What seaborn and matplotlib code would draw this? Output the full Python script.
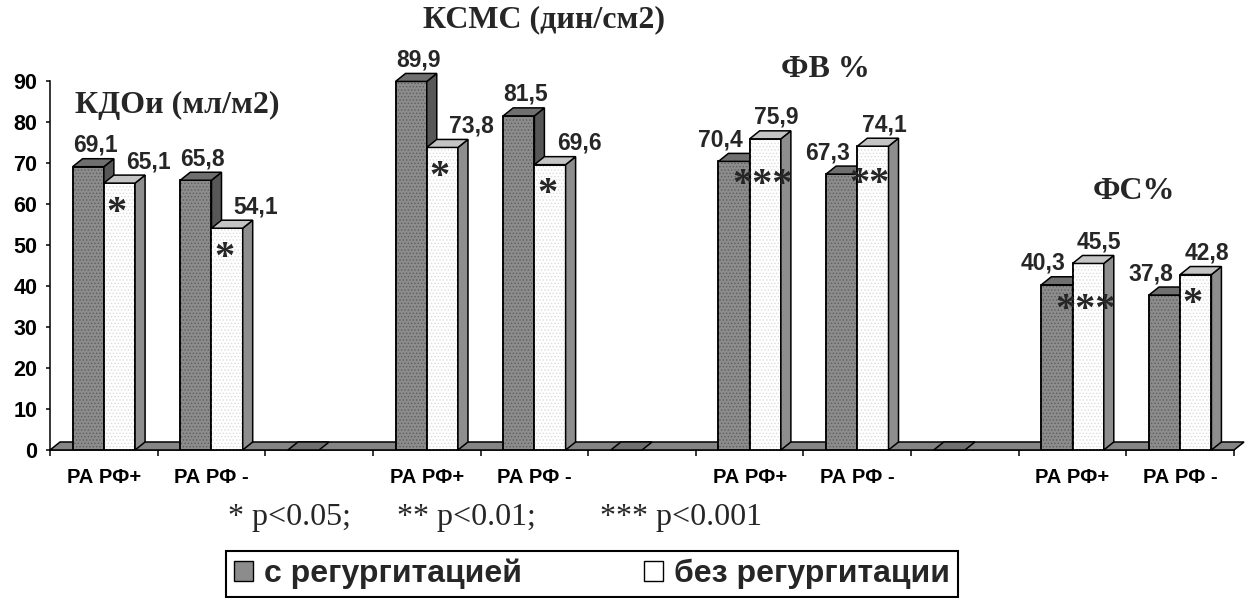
import numpy as np
import pandas as pd
import matplotlib
matplotlib.use("Agg")
import matplotlib.pyplot as plt
from matplotlib.patches import Polygon, Rectangle, Patch
from matplotlib.colors import to_rgba
import seaborn as sns

# ---- data ---------------------------------------------------------------
groups = ["КДОи (мл/м2)", "КСМС (дин/см2)", "ФВ %", "ФС%"]
subgroups = ["РА РФ+", "РА РФ -"]
series = ["с регургитацией", "без регургитации"]
with_regurg = [69.1, 65.8, 89.9, 81.5, 70.4, 67.3, 40.3, 37.8]
without_regurg = [65.1, 54.1, 73.8, 69.6, 75.9, 74.1, 45.5, 42.8]
significance = ["*", "*", "*", "*", "***", "**", "***", "*"]
spacer_value = 0.0
yticks = list(range(0, 91, 10))
footnotes = ["* p<0.05;", "** p<0.01;", "*** p<0.001"]

# ---- long table: two bars per subgroup, an empty slot between groups ----
slots, tick_labels, rows, pair_slot = [], [], [], []
k = 0
for g in range(len(groups)):
    for s in range(len(subgroups)):
        slot = f"slot{len(slots)}"
        pair_slot.append(len(slots))
        slots.append(slot)
        tick_labels.append(subgroups[s])
        rows.append((slot, series[0], with_regurg[k]))
        rows.append((slot, series[1], without_regurg[k]))
        k += 1
    if g < len(groups) - 1:
        slot = f"slot{len(slots)}"
        slots.append(slot)
        tick_labels.append("")
        rows.append((slot, series[0], spacer_value))
df = pd.DataFrame(rows, columns=["slot", "series", "value"])

# ---- style --------------------------------------------------------------
sns.set_style("white")
plt.rcParams["font.family"] = ["Liberation Sans", "DejaVu Sans"]
plt.rcParams["hatch.linewidth"] = 0.6

DARK, WHITE = "#8c8c8c", "#ffffff"
DARK_TOP, DARK_SIDE = "#6f6f6f", "#575757"
WHITE_TOP, WHITE_SIDE = "#c4c4c4", "#8e8e8e"
FLOOR = "#858585"
EDGE_LW = 1.1
SERIF = ["Liberation Serif", "DejaVu Serif"]

fig = plt.figure(figsize=(12.48, 5.98), dpi=100)
ax = fig.add_axes([0.0401, 0.2475, 0.9487, 0.617])

sns.barplot(data=df, x="slot", y="value", hue="series", order=slots,
            hue_order=series, palette=[DARK, WHITE], width=0.58,
            saturation=1, edgecolor="black", linewidth=EDGE_LW,
            errorbar=None, legend=False, ax=ax)

ax.set_xlim(-0.5, len(slots) - 0.5)
ax.set_ylim(0, 90)

# depth of the pseudo-3D extrusion (data units)
px_x = (len(slots)) / (0.9487 * 1248)      # data units per pixel, x
px_y = 90 / (0.617 * 598)                   # data units per pixel, y
DX, DY = 10 * px_x, 8 * px_y

# floor slab
floor = Polygon([(-0.5, 0), (len(slots) - 0.5, 0),
                 (len(slots) - 0.5 + DX, DY), (-0.5 + DX, DY)],
                closed=True, facecolor=FLOOR, edgecolor="black",
                linewidth=EDGE_LW, zorder=1.5, clip_on=False)
ax.add_patch(floor)

dark_rgba = to_rgba(DARK)
dark_bars, white_bars = {}, {}
for p in ax.patches:
    if not isinstance(p, Rectangle) or p is floor:
        continue
    cx = p.get_x() + p.get_width() / 2
    is_dark = np.allclose(p.get_facecolor(), dark_rgba)
    (dark_bars if is_dark else white_bars)[int(round(cx))] = p

def extrude(p, base_z, top_c, side_c, hatch_c):
    x0, w, h = p.get_x(), p.get_width(), p.get_height()
    p.set_zorder(base_z)
    # fine stipple texture on the front face
    ax.add_patch(Rectangle((x0, 0), w, h, fill=False, hatch=".....",
                           edgecolor=hatch_c, linewidth=0, zorder=base_z + 0.05))
    ax.add_patch(Rectangle((x0, 0), w, h, fill=False, edgecolor="black",
                           linewidth=EDGE_LW, zorder=base_z + 0.06))
    if h > 0:
        ax.add_patch(Polygon([(x0 + w, 0), (x0 + w + DX, DY), (x0 + w + DX, h + DY),
                              (x0 + w, h)], closed=True, facecolor=side_c,
                             edgecolor="black", linewidth=EDGE_LW,
                             zorder=base_z + 0.1, clip_on=False))
    ax.add_patch(Polygon([(x0, h), (x0 + DX, h + DY), (x0 + w + DX, h + DY),
                          (x0 + w, h)], closed=True, facecolor=top_c,
                         edgecolor="black", linewidth=EDGE_LW,
                         zorder=base_z + 0.1, clip_on=False))

for p in dark_bars.values():
    extrude(p, 2, DARK_TOP, DARK_SIDE, "#5e5e5e")
for p in white_bars.values():
    extrude(p, 3, WHITE_TOP, WHITE_SIDE, "#dcdcdc")

# ---- value labels and significance marks --------------------------------
PT = 72 / 100  # points per pixel
def fmt(v):
    return f"{v:.1f}".replace(".", ",")

for i, s in enumerate(pair_slot):
    d, w = dark_bars[s], white_bars[s]
    dv, wv = with_regurg[i], without_regurg[i]
    d_shift, w_shift = (2, 24) if dv >= wv else (-19, 6)
    for bar, val, sh in ((d, dv, d_shift), (w, wv, w_shift)):
        cx = bar.get_x() + bar.get_width() / 2 + DX / 2
        ax.annotate(fmt(val), xy=(cx, val + DY), xytext=(sh * PT, 7 * PT),
                    textcoords="offset points", ha="center", va="baseline",
                    fontsize=16.5, fontweight="bold", zorder=6,
                    annotation_clip=False)
    n = len(significance[i])
    wcx = w.get_x() + w.get_width() / 2
    ax.annotate(significance[i], xy=(wcx, wv),
                xytext=(-3 * PT, -(12 + 8.5 * n + 19) * PT),
                textcoords="offset points", ha="center", va="baseline",
                fontsize=29, fontweight="bold", family=SERIF, zorder=6)

# ---- group titles -------------------------------------------------------
title_pos = [(0.68, 84), (4.09, 105), (6.7, 92.7), (9.57, 63)]
for name, (tx, ty) in zip(groups, title_pos):
    ax.text(tx, ty, name, ha="center", va="center", fontsize=23,
            fontweight="bold", family=SERIF, zorder=7, clip_on=False)

# ---- axes ---------------------------------------------------------------
for side in ("top", "right"):
    ax.spines[side].set_visible(False)
for side in ("left", "bottom"):
    ax.spines[side].set_color("black")
    ax.spines[side].set_linewidth(EDGE_LW)
ax.spines["bottom"].set_zorder(1.4)

ax.set_yticks(yticks)
ax.set_yticklabels([str(t) for t in yticks], fontsize=15.5, fontweight="bold")
ax.tick_params(axis="y", left=True, direction="out", length=3, width=EDGE_LW,
               pad=6, colors="black")
ax.set_xticks(range(len(slots)))
ax.set_xticklabels(tick_labels, fontsize=14.5, fontweight="bold")
ax.set_xticks(np.arange(-0.5, len(slots), 1), minor=True)
ax.tick_params(axis="x", which="major", length=0, pad=13, colors="black")
ax.tick_params(axis="x", which="minor", bottom=True, direction="out",
               length=4, width=EDGE_LW, color="black")
ax.set_xlabel("")
ax.set_ylabel("")
ax.grid(False)

# ---- footnote -----------------------------------------------------------
for txt, fx in zip(footnotes, (228, 397, 600)):
    fig.text(fx / 1248, 1 - 517 / 598, txt, ha="left", va="center",
             fontsize=23, family=SERIF)

# ---- legend -------------------------------------------------------------
handles = [Patch(facecolor=DARK, edgecolor="black", linewidth=1),
           Patch(facecolor=WHITE, edgecolor="black", linewidth=1)]
leg = fig.legend(handles, series, loc="center",
                 bbox_to_anchor=(592 / 1248, 1 - 574 / 598), ncol=2,
                 frameon=True, fancybox=False, edgecolor="black",
                 framealpha=1, prop={"weight": "bold", "size": 23},
                 handlelength=0.6, handleheight=0.6, handletextpad=0.35,
                 columnspacing=3.8, borderpad=0.25, borderaxespad=0)
leg.get_frame().set_linewidth(1.5)

fig.savefig("out.png", dpi=100, facecolor="white")
